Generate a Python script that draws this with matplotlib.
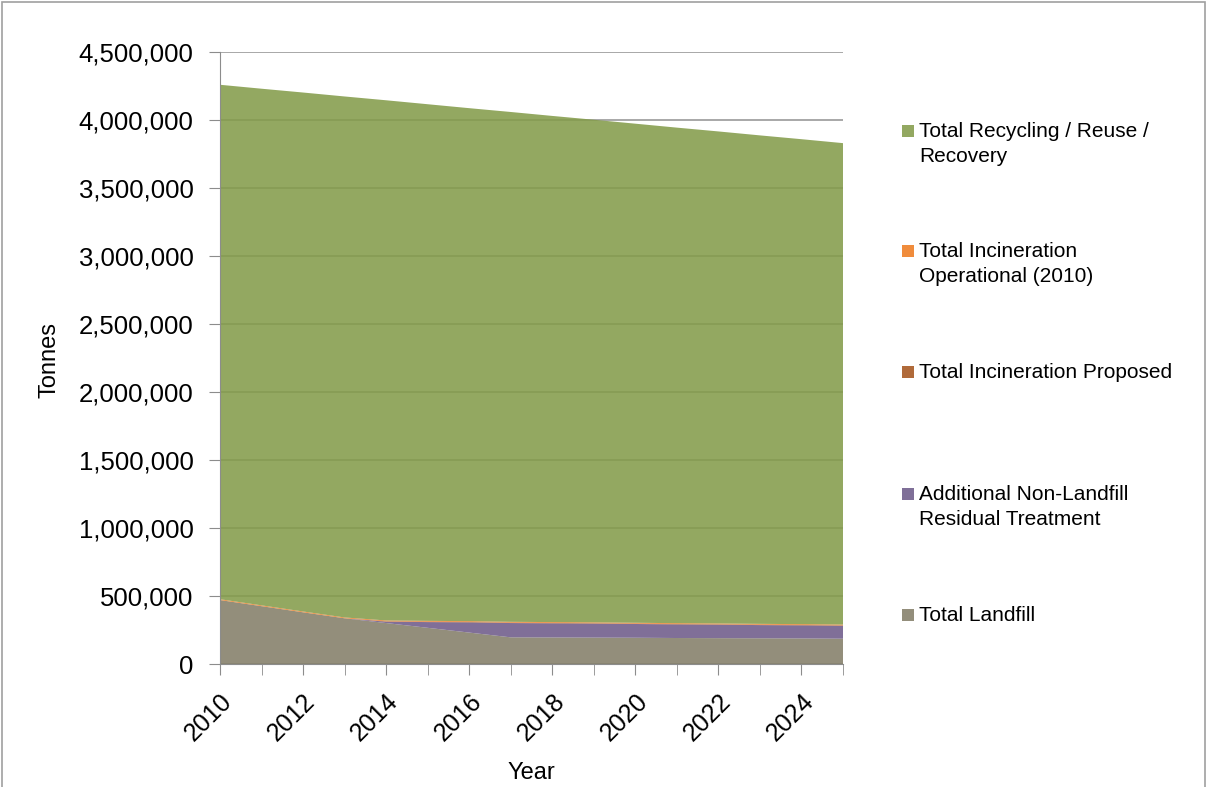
import matplotlib
matplotlib.use("Agg")
import matplotlib.pyplot as plt
from matplotlib.patches import Rectangle
from matplotlib.ticker import MultipleLocator

years = list(range(2010, 2026))
landfill = [470000, 425000, 380000, 336000, 301000, 266000, 231000, 196000,
            195000, 194000, 193000, 191000, 190000, 189000, 188000, 186000]
residual_treatment = [0, 0, 0, 0, 10000, 42000, 75000, 105000,
                      104000, 103000, 101000, 100000, 99000, 97000, 96000, 95000]
incin_proposed = [0, 0, 0, 0, 3000, 3000, 3000, 3000,
                  3000, 3000, 3000, 3000, 3000, 3000, 3000, 3000]
incin_operational = [6000] * 16
recycling = [3781000, 3797000, 3814000, 3829000, 3823000, 3797000, 3770000, 3747000,
             3720000, 3694000, 3668000, 3642000, 3616000, 3590000, 3564000, 3538000]

series_labels = ["Total Landfill", "Additional Non-Landfill\nResidual Treatment",
                 "Total Incineration Proposed", "Total Incineration\nOperational (2010)",
                 "Total Recycling / Reuse /\nRecovery"]
colors = ["#938E7B", "#7F6F98", "#B06A3A", "#F08C3C", "#93A861"]

ALPHA = 0.88


def under_color(hexc, a=ALPHA):
    # colour that, drawn with alpha a over white, gives hexc
    h = hexc.lstrip("#")
    rgb = [int(h[i:i + 2], 16) / 255 for i in (0, 2, 4)]
    return tuple(min(1, max(0, (c - (1 - a)) / a)) for c in rgb)


sans = ["Liberation Sans", "DejaVu Sans"]

fig = plt.figure(figsize=(12.07, 7.87), dpi=100)
ax = fig.add_axes([220/1207, 1-664/787, (843-220)/1207, (664-51.7)/787])

ax.stackplot(years, landfill, residual_treatment, incin_proposed,
             incin_operational, recycling,
             colors=[under_color(c) for c in colors], alpha=ALPHA,
             linewidth=0, zorder=2)

ax.set_xlim(2010, 2025)
ax.set_ylim(0, 4500000)
ax.yaxis.set_major_locator(MultipleLocator(500000))
ax.grid(axis="y", color="#9A9A9A", linewidth=1.2, zorder=1)
ax.set_axisbelow(True)
for sp in ["top", "right"]:
    ax.spines[sp].set_visible(False)
ax.spines["left"].set_color("#8C8C8C")
ax.spines["bottom"].set_color("#8C8C8C")
ax.spines["left"].set_zorder(4)
ax.spines["bottom"].set_zorder(4)

ax.set_xticks(years[::2])
ax.set_xticks(years, minor=True)
ax.tick_params(axis="x", which="both", direction="out", length=8, color="#8C8C8C")
ax.tick_params(axis="y", direction="out", length=8, color="#8C8C8C", pad=11)
yt = list(range(0, 4500001, 500000))
ax.set_yticks(yt)
ax.set_yticklabels([f"{v:,}" for v in yt], fontsize=18.5, family=sans)
ax.set_xticklabels([str(y) for y in years[::2]], rotation=45, ha="right",
                   rotation_mode="anchor", fontsize=18, family=sans)
ax.tick_params(axis="x", pad=10)
ax.set_ylim(0, 4500000)

fig.text(531/1207, 1-773/787, "Year", ha="center", va="center", fontsize=17, family=sans)
fig.text(50/1207, 1-360/787, "Tonnes", ha="center", va="center", rotation=90,
         fontsize=17, family=sans)

# legend (manual layout, top to bottom)
leg_items = list(zip(series_labels, colors))[::-1]
leg_y = [131, 251, 372, 494, 615]
for (lab, col), yy in zip(leg_items, leg_y):
    fig.patches.append(Rectangle((902/1207, 1-(yy+6)/787), 12/1207, 12/787,
                                 transform=fig.transFigure, facecolor=col,
                                 edgecolor="none"))
    fig.text(919/1207, 1-(yy-9)/787, lab, ha="left", va="top", fontsize=15,
             family=sans, linespacing=1.42)

# outer border
fig.patches.append(Rectangle((2/1207, -0.05), 1203/1207, 1.05 - 2/787,
                             transform=fig.transFigure, facecolor="none",
                             edgecolor="#A0A0A0", linewidth=1.2))

fig.savefig("out.png", dpi=100)
